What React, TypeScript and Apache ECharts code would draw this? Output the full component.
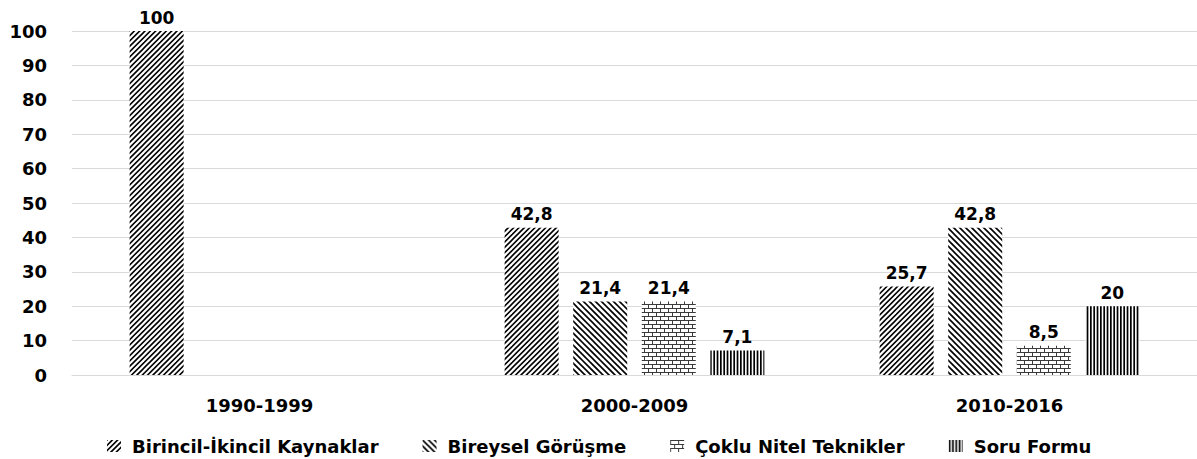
import React, { useEffect, useRef } from "react";
import * as echarts from "echarts";

const categories = ["1990-1999", "2000-2009", "2010-2016"];
const seriesNames = [
  "Birincil-İkincil Kaynaklar",
  "Bireysel Görüşme",
  "Çoklu Nitel Teknikler",
  "Soru Formu",
];
const birincilIkincil: (number | null)[] = [100, 42.8, 25.7];
const bireyselGorusme: (number | null)[] = [null, 21.4, 42.8];
const cokluNitel: (number | null)[] = [null, 21.4, 8.5];
const soruFormu: (number | null)[] = [null, 7.1, 20];
const yTicks = { min: 0, max: 100, interval: 10 };

const FONT = "DejaVu Sans";

function makeCanvas(w: number, h: number, draw: (ctx: CanvasRenderingContext2D) => void) {
  const c = document.createElement("canvas");
  c.width = w;
  c.height = h;
  const ctx = c.getContext("2d")!;
  ctx.fillStyle = "#fff";
  ctx.fillRect(0, 0, w, h);
  draw(ctx);
  return c;
}

function diagPattern(T: number, n: number, width: number, forward: boolean) {
  return makeCanvas(T, T, (ctx) => {
    ctx.strokeStyle = "#000";
    ctx.lineWidth = width;
    const p = T / n;
    for (let k = -2 * n; k <= 3 * n; k++) {
      const c = k * p;
      ctx.beginPath();
      if (forward) {
        ctx.moveTo(c + T, -T);
        ctx.lineTo(c - 2 * T, 2 * T);
      } else {
        ctx.moveTo(c - T, -T);
        ctx.lineTo(c + 2 * T, 2 * T);
      }
      ctx.stroke();
    }
  });
}

function brickPattern() {
  return makeCanvas(8, 8, (ctx) => {
    ctx.strokeStyle = "#3a3a3a";
    ctx.lineWidth = 1;
    ctx.beginPath();
    ctx.moveTo(0, 0.5);
    ctx.lineTo(8, 0.5);
    ctx.moveTo(0, 4.5);
    ctx.lineTo(8, 4.5);
    ctx.moveTo(0.5, 0);
    ctx.lineTo(0.5, 4);
    ctx.moveTo(4.5, 4);
    ctx.lineTo(4.5, 8);
    ctx.stroke();
  });
}

function verticalPattern() {
  return makeCanvas(10, 4, (ctx) => {
    ctx.fillStyle = "#000";
    ctx.fillRect(0, 0, 1.7, 4);
    ctx.fillRect(3.33, 0, 1.7, 4);
    ctx.fillRect(6.67, 0, 1.7, 4);
  });
}

export default function App() {
  const ref = useRef<HTMLDivElement>(null);
  useEffect(() => {
    if (!ref.current) return;
    document.body.style.margin = "0";
    const chart = echarts.init(ref.current, undefined, { renderer: "svg" });
    const pats = [
      { image: diagPattern(16, 3, 1.6, true), w: 16, h: 16 },
      { image: diagPattern(18, 3, 1.6, false), w: 18, h: 18 },
      { image: brickPattern(), w: 8, h: 8 },
      { image: verticalPattern(), w: 10, h: 4 },
    ];
    const datas = [birincilIkincil, bireyselGorusme, cokluNitel, soruFormu];
    const labelFmt = (p: any) =>
      p.value == null ? "" : String(p.value).replace(".", ",");
    chart.setOption({
      animation: false,
      backgroundColor: "#fff",
      grid: { left: 72, right: 0, top: 31, bottom: 84, containLabel: false },
      legend: {
        left: 102,
        top: 432,
        itemWidth: 14,
        itemHeight: 12,
        itemGap: 44,
        icon: "rect",
        textStyle: {
          fontFamily: FONT,
          fontWeight: "bold",
          fontSize: 18,
          color: "#000",
          padding: [0, 0, 0, 6],
        },
        data: seriesNames,
      },
      xAxis: {
        type: "category",
        data: categories,
        axisLine: { lineStyle: { color: "#d9d9d9", width: 1 } },
        axisTick: { show: false },
        axisLabel: {
          fontFamily: FONT,
          fontWeight: "bold",
          fontSize: 18,
          color: "#000",
          margin: 21,
        },
      },
      yAxis: {
        type: "value",
        min: yTicks.min,
        max: yTicks.max,
        interval: yTicks.interval,
        axisLine: { show: false },
        axisTick: { show: false },
        splitLine: { lineStyle: { color: "#d9d9d9", width: 1 } },
        axisLabel: {
          fontFamily: FONT,
          fontWeight: "bold",
          fontSize: 18,
          color: "#000",
          margin: 25,
        },
      },
      series: seriesNames.map((name, i) => ({
        name,
        type: "bar",
        data: datas[i],
        barWidth: 54,
        barGap: "27%",
        itemStyle: {
          color: {
            image: pats[i].image,
            repeat: "repeat",
            imageWidth: pats[i].w,
            imageHeight: pats[i].h,
          },
        },
        label: {
          show: true,
          position: "top",
          distance: 5,
          formatter: labelFmt,
          fontFamily: FONT,
          fontWeight: "bold",
          fontSize: 17,
          color: "#000",
        },
      })),
    });
    return () => chart.dispose();
  }, []);
  return <div ref={ref} style={{ width: 1197, height: 459 }} />;
}
